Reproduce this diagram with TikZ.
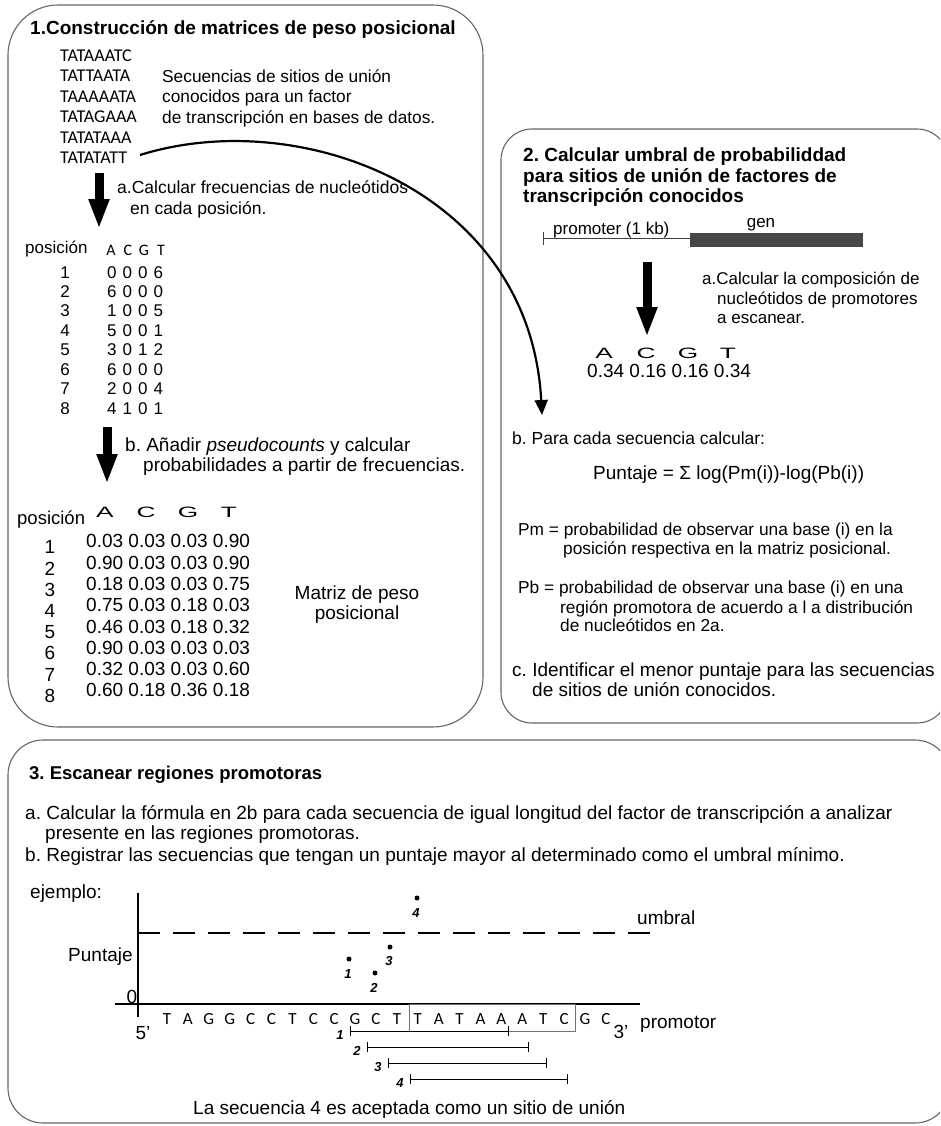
\documentclass[tikz,border=0pt]{standalone}
\usepackage{fontspec}
\usepackage{graphicx}
\setmainfont{Liberation Sans}
\newfontfamily\calfont{Carlito}
\usetikzlibrary{arrows.meta}
\newcommand\wl[1]{\scalebox{1.75}[1]{#1}}
\newcommand\digs[4]{#1\hspace{6pt}#2\hspace{6pt}#3\hspace{6pt}#4}
\frenchspacing
\begin{document}
\begin{tikzpicture}[x=1pt,y=-1pt,
  tx/.style={anchor=west,inner sep=0pt,font=\fontsize{#1}{#1}\selectfont,text height={0.72pt*#1},text depth=0pt},
  tc/.style={anchor=center,inner sep=0pt,font=\fontsize{#1}{#1}\selectfont,text height={0.72pt*#1},text depth=0pt},
  panel/.style={draw=black!60,line width=1.1pt},
  bigarrow/.style={line width=9pt,-{Triangle[width=19pt,length=30pt]}},
  curvearrow/.style={line width=2.2pt,-{Triangle[width=13pt,length=15pt]}},
  axis/.style={line width=2.4pt},
  seqbar/.style={line width=1pt,{Bar[width=10pt]}-{Bar[width=10pt]}},
  dot/.style={circle,fill=black,inner sep=0pt,minimum size=5pt},
  num/.style={anchor=center,inner sep=0pt,font=\fontsize{13}{13}\selectfont\bfseries\itshape}
]
\useasboundingbox (0,0) rectangle (940,1126);
\fill[white] (0,0) rectangle (940,1126);
\begin{scope}
\clip (0,0) rectangle (940,1126);
\draw[panel,rounded corners=50pt] (8,5) rectangle (483,727);
\draw[panel,rounded corners=31pt] (501,129) rectangle (948,723);
\draw[panel,rounded corners=35pt] (8,740) rectangle (950,1123);
\end{scope}

% ---------------- Section 1 ----------------
\node[tx=19] (t1) at (30,28) {\bfseries 1.Construcción de matrices de peso posicional};
\foreach \s [count=\i] in {TATAAATC,TATTAATA,TAAAAATA,TATAGAAA,TATATAAA,TATATATT}
  \node[tx=18,font=\fontsize{18}{18}\calfont] (s\i) at (60,{34.6+20.4*\i}) {\s};
\node[tx=17.3] (d1) at (162,76) {Secuencias de sitios de unión};
\node[tx=17.3] (d2) at (162,96.5) {conocidos para un factor};
\node[tx=17.3] (d3) at (162,117) {de transcripción en bases de datos.};

\coordinate (a1s) at (99,173);
\coordinate (a1e) at (99,229);
\draw[bigarrow] (a1s) -- (a1e);
\node[tx=17.5] (ta1) at (117,187) {a.Calcular frecuencias de nucleótidos};
\node[tx=17.5] (ta2) at (130,208) {en cada posición.};

\node[tx=17] (p1) at (25,247) {posición};
\foreach \l/\x in {A/111,C/128,G/144,T/161}
  \node[tc=16,font=\fontsize{16}{16}\calfont] (h\l) at (\x,250) {\l};
\foreach \r/\v in {1/0006,2/6000,3/1005,4/5001,5/3012,6/6000,7/2004,8/4101}{
  \node[tc=17] (n\r) at (65,{272+19.43*(\r-1)}) {\r};
  \node[tx=17] (v\r) at (107,{272+19.43*(\r-1)}) {\expandafter\digs\v};
}

\coordinate (a2s) at (107,427);
\coordinate (a2e) at (107,484);
\draw[bigarrow] (a2s) -- (a2e);
\node[tx=19] (tb1) at (125,445) {b. Añadir \textit{pseudocounts} y calcular};
\node[tx=19] (tb2) at (143,465) {probabilidades a partir de frecuencias.};

\node[tx=18.5] (p2) at (17,518) {posición};
\foreach \l/\x in {A/105,C/146,G/188,T/229}
  \node[tc=15] (H\l) at (\x,512) {\wl{\l}};
\foreach \r/\v in {1/{0.03 0.03 0.03 0.90},2/{0.90 0.03 0.03 0.90},3/{0.18 0.03 0.03 0.75},4/{0.75 0.03 0.18 0.03},5/{0.46 0.03 0.18 0.32},6/{0.90 0.03 0.03 0.03},7/{0.32 0.03 0.03 0.60},8/{0.60 0.18 0.36 0.18}}{
  \node[tc=19] (m\r) at (50,{547+21.2*(\r-1)}) {\r};
  \node[tx=19] (w\r) at (86,{541+21.3*(\r-1)}) {\v};
}
\node[tc=19] (mz1) at (357,593) {Matriz de peso};
\node[tc=19] (mz2) at (357,613) {posicional};

% curved connector
\coordinate (cs) at (140,155);
\coordinate (ce) at (542,415);
\draw[curvearrow] (cs) .. controls (300,105) and (530,190) .. (ce);

% ---------------- Section 2 ----------------
\node[tx=19] (t2a) at (523,155) {\bfseries 2. Calcular umbral de probabiliddad};
\node[tx=19] (t2b) at (523,176) {\bfseries para sitios de unión de factores de};
\node[tx=19] (t2c) at (523,196) {\bfseries transcripción conocidos};

\coordinate (pl) at (543,238);
\coordinate (pr) at (690,238);
\draw[line width=1pt,black!75] (pl) -- (pr);
\draw[line width=1pt,black!75] (543,232) -- (543,245);
\fill[black!72] (690,233) rectangle (863,247);
\node[tx=17] (pt) at (553,228) {promoter (1 kb)};
\node[tc=17] (gt) at (761,221) {gen};

\coordinate (a3s) at (647,262);
\coordinate (a3e) at (647,337);
\draw[bigarrow] (a3s) -- (a3e);
\node[tx=17] (c1) at (702,278) {a.Calcular la composición de};
\node[tx=17] (c2) at (717,298) {nucleótidos de promotores};
\node[tx=17] (c3) at (717,317) {a escanear.};
\foreach \l/\x in {A/604,C/646,G/688,T/728}
  \node[tc=15] (B\l) at (\x,353) {\wl{\l}};
\node[tx=19] (bg) at (587,371) {0.34 0.16 0.16 0.34};

\node[tx=17.5] (b1) at (512,438) {b. Para cada secuencia calcular:};
\node[tx=19] (fm) at (593,473) {Puntaje = Σ log(Pm(i))-log(Pb(i))};
\node[tx=17.3] (pm1) at (518,529) {Pm = probabilidad de observar una base (i) en la};
\node[tx=17.3] (pm2) at (563,548) {posición respectiva en la matriz posicional.};
\node[tx=17.3] (pb1) at (518,587) {Pb = probabilidad de observar una base (i) en una};
\node[tx=17.3] (pb2) at (560,607) {región promotora de acuerdo a l a distribución};
\node[tx=17.3] (pb3) at (560,625) {de nucleótidos en 2a.};
\node[tx=19] (cc1) at (512,670) {c. Identificar el menor puntaje para las secuencias};
\node[tx=19] (cc2) at (532,690) {de sitios de unión conocidos.};

% ---------------- Section 3 ----------------
\node[tx=18.5] (t3) at (29,773) {\bfseries 3. Escanear regiones promotoras};
\node[tx=19] (e1) at (25,813) {a. Calcular la fórmula en 2b para cada secuencia de igual longitud del factor de transcripción a analizar};
\node[tx=19] (e2) at (45,833) {presente en las regiones promotoras.};
\node[tx=19] (e3) at (25,855) {b. Registrar las secuencias que tengan un puntaje mayor al determinado como el umbral mínimo.};
\node[tx=19] (ej) at (30,892) {ejemplo:};

\coordinate (yt) at (138,893);
\coordinate (yb) at (138,1017);
\coordinate (xl) at (115,1004);
\coordinate (xr) at (640,1004);
\draw[axis] (yt) -- (yb);
\draw[axis] (xl) -- (xr);
\coordinate (ul) at (138,933);
\coordinate (ur) at (660,933);
\draw[line width=2.5pt,dash pattern=on 22pt off 13pt] (ul) -- (ur);
\node[tx=19] (um) at (637,918) {umbral};
\node[tx=19] (pu) at (68,955) {Puntaje};
\node[tc=19] (zero) at (132,997) {0};
\node[tc=19] (p5) at (143,1033) {5'};

\foreach \l [count=\i from 0] in {T,A,G,G,C,C,T,C,C,G,C,T,T,A,T,A,A,A,T,C,G,C}
  \node[tc=17,font=\fontsize{17}{17}\calfont] (q\i) at ({167+20.9*\i},1018) {\l};
\draw[line width=0.8pt,black!55] (409,1004) rectangle (575,1031);
\node[tc=19] (p3) at (621,1032) {3'};
\node[tx=19] (pr3) at (640,1022) {promotor};

\node[dot] (d1p) at (349,959) {};
\node[dot] (d2p) at (375,973) {};
\node[dot] (d3p) at (390,947) {};
\node[dot] (d4p) at (417,898) {};
\node[num] (l1) at (348,974) {1};
\node[num] (l2) at (374,988) {2};
\node[num] (l3) at (389,961) {3};
\node[num] (l4) at (416,913) {4};

\foreach \i/\xs/\xe/\yy in {1/350/509/1031,2/367/529/1047,3/388/547/1063,4/410/568/1079}{
  \coordinate (bs\i) at (\xs,\yy);
  \coordinate (be\i) at (\xe,\yy);
  \draw[seqbar] (bs\i) -- (be\i);
  \node[num] (bl\i) at (\xs-10,\yy+4) {\i};
}
\node[tx=19] (fin) at (193,1108) {La secuencia 4 es aceptada como un sitio de unión};
\end{tikzpicture}
\end{document}
